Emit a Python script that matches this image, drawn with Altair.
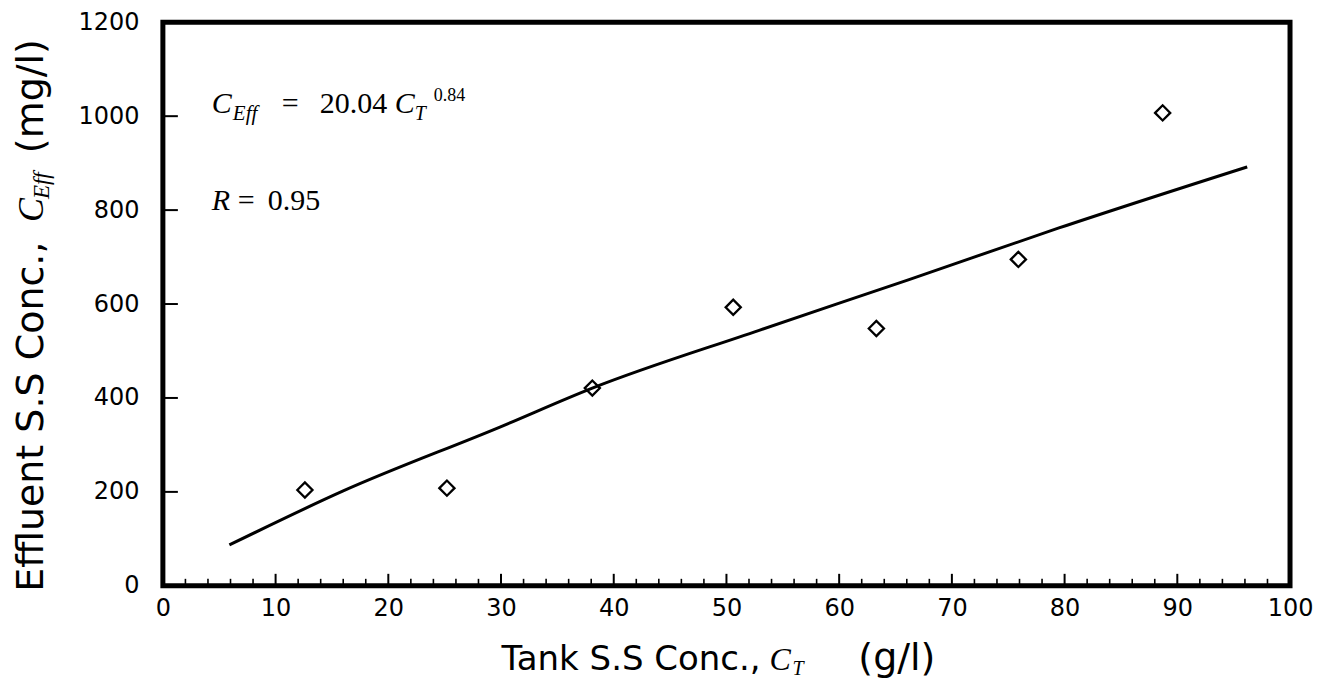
import altair as alt
import pandas as pd

tank_conc = [12.6, 25.2, 38.1, 50.6, 63.3, 75.9, 88.7]
eff_conc = [204, 208, 421, 593, 548, 695, 1007]

# Fitted curve as drawn in the figure
fit_x = [5.9, 16.0, 29.9, 38.1, 52.9, 66.2, 79.5, 96.2]
fit_y = [87, 202, 338, 421, 544, 652, 762, 892]

# Axis tick values
x_labels = [0, 10, 20, 30, 40, 50, 60, 70, 80, 90, 100]
x_major_ticks = [10, 20, 30, 40, 50, 60, 70, 80, 90]
x_minor_ticks = [2, 4, 6, 8, 12, 14, 16, 18, 22, 24, 26, 28, 32, 34, 36, 38,
                 42, 44, 46, 48, 52, 54, 56, 58, 62, 64, 66, 68, 72, 74, 76, 78,
                 82, 84, 86, 88, 92, 94, 96, 98]
y_labels = [0, 200, 400, 600, 800, 1000, 1200]
y_major_ticks = [200, 400, 600, 800, 1000]

W, H = 1128, 564
SANS = "DejaVu Sans"
SERIF = "Liberation Serif"

pts = pd.DataFrame({"x": tank_conc, "y": eff_conc})
fit = pd.DataFrame({"x": fit_x, "y": fit_y})
xmaj = pd.DataFrame({"x": x_major_ticks})
xmin = pd.DataFrame({"x": x_minor_ticks})
ymaj = pd.DataFrame({"y": y_major_ticks})

xscale = alt.Scale(domain=[0, 100], nice=False)
yscale = alt.Scale(domain=[0, 1200], nice=False)

xaxis = alt.Axis(values=x_labels, format="d", labelFont=SANS, labelFontSize=24,
                 labelColor="black", ticks=False, domain=False, grid=False,
                 labelPadding=11, labelFlush=False, title=None)
yaxis = alt.Axis(values=y_labels, format="d", labelFont=SANS, labelFontSize=24,
                 labelColor="black", ticks=False, domain=False, grid=False,
                 labelPadding=24, labelFlush=False, title=None)

X = lambda: alt.X("x:Q", scale=xscale, axis=xaxis)
Y = lambda: alt.Y("y:Q", scale=yscale, axis=yaxis)

line = alt.Chart(fit).mark_line(color="black", strokeWidth=3, interpolate="monotone").encode(
    x=X(), y=Y())

points = alt.Chart(pts).mark_point(shape="diamond", filled=False, size=230,
                                   strokeWidth=2.3, color="black", opacity=1).encode(
    x=X(), y=Y())

xmaj_rules = alt.Chart(xmaj).mark_rule(color="black", strokeWidth=2).encode(
    x=X(), y=alt.value(H), y2=alt.value(H - 12))
xmin_rules = alt.Chart(xmin).mark_rule(color="black", strokeWidth=1.6).encode(
    x=X(), y=alt.value(H), y2=alt.value(H - 7))
ymaj_rules = alt.Chart(ymaj).mark_rule(color="black", strokeWidth=2).encode(
    y=Y(), x=alt.value(0), x2=alt.value(15))

one = pd.DataFrame({"a": [0]})


def txt(s, x, y, size, font, style="normal", angle=0):
    kw = dict(align="left", baseline="alphabetic", font=font, fontSize=size,
              fontStyle=style, color="black")
    if angle:
        kw["angle"] = angle
    return alt.Chart(one).mark_text(**kw).encode(
        x=alt.value(x), y=alt.value(y), text=alt.value(s))


texts = [
    # equation
    txt("C", 49, 91, 30, SERIF, "italic"),
    txt("Eff", 70, 98, 21, SERIF, "italic"),
    txt("=", 119, 91, 30, SERIF),
    txt("20.04", 157, 91, 30, SERIF),
    txt("C", 232, 91, 30, SERIF, "italic"),
    txt("T", 252, 98, 20, SERIF, "italic"),
    txt("0.84", 271, 79, 18, SERIF),
    # R value
    txt("R", 49, 188, 30, SERIF, "italic"),
    txt("=", 75, 188, 30, SERIF),
    txt("0.95", 105, 188, 30, SERIF),
    # x title
    txt("Tank S.S Conc.,", 339, 648, 34, SANS),
    txt("C", 607, 648, 32, SERIF, "italic"),
    txt("T", 630, 653, 20, SERIF, "italic"),
    txt("(g/l)", 696, 648, 38, SANS),
    # y title (rotated)
    txt("Effluent S.S Conc.,", -120, 570, 38, SANS, angle=270),
    txt("C", -120, 200, 36, SERIF, "italic", angle=270),
    txt("Eff", -114, 177, 23, SERIF, "italic", angle=270),
    txt("(mg/l)", -120, 131, 38, SANS, angle=270),
]

chart = alt.layer(line, points, xmaj_rules, xmin_rules, ymaj_rules, *texts).properties(
    width=W, height=H,
    autosize=alt.AutoSizeParams(type="none"),
    padding={"left": 155, "top": 14, "right": 30, "bottom": 98},
    background="white",
).configure_view(stroke="black", strokeWidth=5)

chart.save("out.html", embed_options={"renderer": "svg", "actions": False})
